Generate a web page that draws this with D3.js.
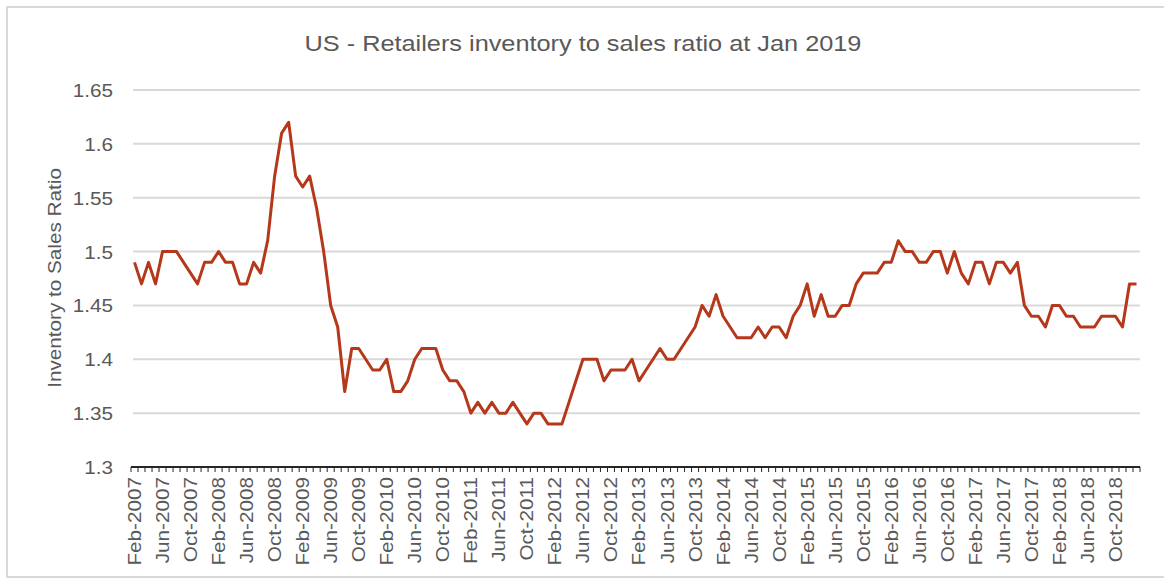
<!DOCTYPE html>
<html>
<head>
<meta charset="utf-8">
<style>
    body {
        margin: 0;
        font-family: "Liberation Sans", Arial, sans-serif;
        background: #fff;
    }
    svg {
        display: block;
    }
    .title {
        font-size: 22px;
        fill: #595959;
        text-anchor: middle;
    }
    .axis-title {
        font-size: 18px;
        fill: #595959;
        text-anchor: middle;
    }
    .y-axis text, .x-axis text {
        fill: #595959;
        font-family: "Liberation Sans", Arial, sans-serif;
    }
    .grid line {
        stroke: #d9d9d9;
        stroke-width: 2;
    }
    .series {
        fill: none;
        stroke: #b5381b;
        stroke-width: 3;
        stroke-linejoin: round;
    }
</style>
</head>
<body>
<script src="https://cdn.jsdelivr.net/npm/d3@7"></script>
<script>

    // monthly ratio, Feb 2007 .. Jan 2019
    var ratio = [
        1.49, 1.47, 1.49, 1.47, 1.50, 1.50, 1.50, 1.49, 1.48, 1.47, 1.49, 1.49,
        1.50, 1.49, 1.49, 1.47, 1.47, 1.49, 1.48, 1.51, 1.57, 1.61, 1.62, 1.57,
        1.56, 1.57, 1.54, 1.50, 1.45, 1.43, 1.37, 1.41, 1.41, 1.40, 1.39, 1.39,
        1.40, 1.37, 1.37, 1.38, 1.40, 1.41, 1.41, 1.41, 1.39, 1.38, 1.38, 1.37,
        1.35, 1.36, 1.35, 1.36, 1.35, 1.35, 1.36, 1.35, 1.34, 1.35, 1.35, 1.34,
        1.34, 1.34, 1.36, 1.38, 1.40, 1.40, 1.40, 1.38, 1.39, 1.39, 1.39, 1.40,
        1.38, 1.39, 1.40, 1.41, 1.40, 1.40, 1.41, 1.42, 1.43, 1.45, 1.44, 1.46,
        1.44, 1.43, 1.42, 1.42, 1.42, 1.43, 1.42, 1.43, 1.43, 1.42, 1.44, 1.45,
        1.47, 1.44, 1.46, 1.44, 1.44, 1.45, 1.45, 1.47, 1.48, 1.48, 1.48, 1.49,
        1.49, 1.51, 1.50, 1.50, 1.49, 1.49, 1.50, 1.50, 1.48, 1.50, 1.48, 1.47,
        1.49, 1.49, 1.47, 1.49, 1.49, 1.48, 1.49, 1.45, 1.44, 1.44, 1.43, 1.45,
        1.45, 1.44, 1.44, 1.43, 1.43, 1.43, 1.44, 1.44, 1.44, 1.43, 1.47, 1.47
    ];

    var fmt = d3.timeFormat("%b-%Y");
    var months = d3.timeMonths(new Date(2007, 1, 1), new Date(2019, 1, 1)).map(fmt);

    var xTickLabels = [
        "Feb-2007", "Jun-2007", "Oct-2007", "Feb-2008", "Jun-2008", "Oct-2008",
        "Feb-2009", "Jun-2009", "Oct-2009", "Feb-2010", "Jun-2010", "Oct-2010",
        "Feb-2011", "Jun-2011", "Oct-2011", "Feb-2012", "Jun-2012", "Oct-2012",
        "Feb-2013", "Jun-2013", "Oct-2013", "Feb-2014", "Jun-2014", "Oct-2014",
        "Feb-2015", "Jun-2015", "Oct-2015", "Feb-2016", "Jun-2016", "Oct-2016",
        "Feb-2017", "Jun-2017", "Oct-2017", "Feb-2018", "Jun-2018", "Oct-2018"
    ];

    var yTicks = [1.3, 1.35, 1.4, 1.45, 1.5, 1.55, 1.6, 1.65];

    var width = 1164,
        height = 581,
        plotLeft = 131,
        plotRight = 1140,
        plotTop = 90,
        plotBottom = 467,
        widen = 1.15;   // source font runs wider than Arial

    var data = months.map(function(m, i) { return {month: m, value: ratio[i]}; });

    function stretch(sel) {
        sel.each(function() {
            var len = this.getComputedTextLength();
            d3.select(this)
                .attr("textLength", len * widen)
                .attr("lengthAdjust", "spacingAndGlyphs");
        });
    }

    var svg = d3.select("body").append("svg")
        .attr("width", width)
        .attr("height", height);

    // chart border
    svg.append("rect")
        .attr("x", 7)
        .attr("y", 7)
        .attr("width", 1160)
        .attr("height", 570)
        .attr("fill", "#fff")
        .attr("stroke", "#d9d9d9")
        .attr("stroke-width", 2);

    var x = d3.scaleBand()
        .domain(months)
        .range([plotLeft, plotRight]);

    var y = d3.scaleLinear()
        .domain([1.3, 1.65])
        .range([plotBottom, plotTop]);

    svg.append("text")
        .attr("class", "title")
        .attr("x", 583)
        .attr("y", 51)
        .text("US - Retailers inventory to sales ratio at Jan 2019")
        .call(stretch);

    // gridlines
    svg.append("g")
        .attr("class", "grid")
        .selectAll("line")
        .data(yTicks.slice(1))
      .enter().append("line")
        .attr("x1", plotLeft + 2)
        .attr("x2", plotRight)
        .attr("y1", function(d) { return y(d); })
        .attr("y2", function(d) { return y(d); });

    // y axis labels
    var yAxis = svg.append("g")
        .attr("class", "y-axis")
        .attr("transform", "translate(113,0)")
        .call(d3.axisLeft(y).tickValues(yTicks).tickSize(0).tickFormat(function(d) { return String(+d.toFixed(2)); }));
    yAxis.select(".domain").remove();
    yAxis.selectAll("text")
        .attr("font-size", 18)
        .attr("x", 0)
        .attr("dy", "0.36em")
        .call(stretch);

    svg.append("text")
        .attr("class", "axis-title")
        .attr("transform", "translate(61," + 278 + ") rotate(-90)")
        .text("Inventory to Sales Ratio")
        .call(stretch);

    // x axis labels
    var xAxis = svg.append("g")
        .attr("class", "x-axis")
        .attr("transform", "translate(0," + plotBottom + ")")
        .call(d3.axisBottom(x).tickValues(xTickLabels).tickSize(0));
    xAxis.select(".domain").remove();
    xAxis.selectAll("text")
        .attr("font-size", 18)
        .attr("transform", "rotate(-90)")
        .attr("text-anchor", "end")
        .attr("x", -10)
        .attr("y", 0)
        .attr("dy", "0.36em")
        .call(stretch);

    // comb of category ticks
    var tickPos = months.map(function(m) { return x(m); }).concat([plotRight]);
    svg.append("g")
        .selectAll("line")
        .data(tickPos)
      .enter().append("line")
        .attr("x1", function(d) { return d; })
        .attr("x2", function(d) { return d; })
        .attr("y1", plotBottom)
        .attr("y2", plotBottom + 5)
        .attr("stroke", "#262626")
        .attr("stroke-width", 1);

    svg.append("line")
        .attr("x1", plotLeft)
        .attr("x2", plotRight)
        .attr("y1", plotBottom)
        .attr("y2", plotBottom)
        .attr("stroke", "#262626")
        .attr("stroke-width", 2);

    var line = d3.line()
        .x(function(d) { return x(d.month) + x.bandwidth() / 2; })
        .y(function(d) { return y(d.value); });

    svg.append("path")
        .datum(data)
        .attr("class", "series")
        .attr("d", line);
</script>
</body>
</html>
